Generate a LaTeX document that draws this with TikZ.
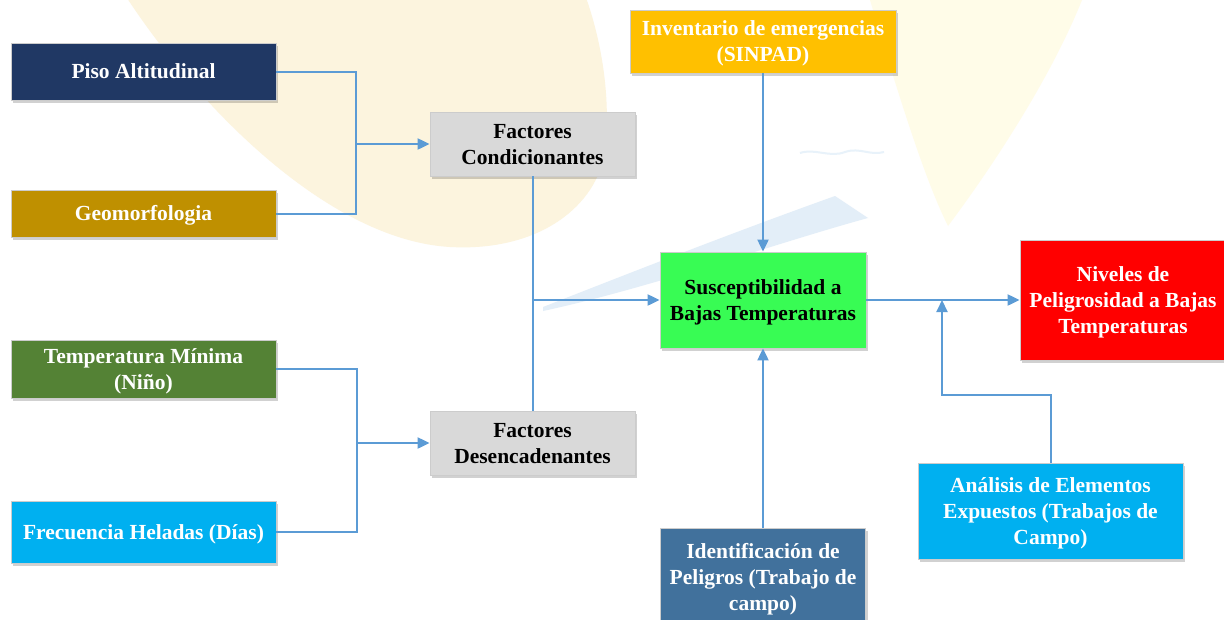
\documentclass[tikz,border=0pt]{standalone}
\usepackage{fontspec}
\setmainfont{Liberation Serif}
\usetikzlibrary{arrows.meta,shadows}
\definecolor{navy}{HTML}{203864}
\definecolor{gold}{HTML}{BF9000}
\definecolor{olive}{HTML}{548235}
\definecolor{sky}{HTML}{00B0F0}
\definecolor{lgray}{HTML}{D9D9D9}
\definecolor{amber}{HTML}{FFC000}
\definecolor{lgreen}{HTML}{38FC54}
\definecolor{bred}{HTML}{FF0000}
\definecolor{steel}{HTML}{41719C}
\definecolor{lineblue}{HTML}{5B9BD5}
\definecolor{wmyellow}{HTML}{FCF4DE}
\definecolor{wmyellowb}{HTML}{FFFCE8}
\definecolor{wmblue}{HTML}{E3EEF8}
\definecolor{wmbluel}{HTML}{E8F2FA}
\begin{document}
\begin{tikzpicture}[x=1pt,y=-1pt,
  box/.style={draw=black!20, line width=0.8pt, inner sep=0pt, align=center,
    font=\bfseries\fontsize{21.5}{26}\selectfont, text=white,
    text height=19.1pt, text depth=4.7pt,
    drop shadow={shadow xshift=2pt, shadow yshift=-2.5pt, opacity=.18, fill=black}},
  two/.style={text height=45.1pt},
  three/.style={text height=71.1pt},
  conn/.style={draw=lineblue, line width=2pt},
  arr/.style={conn, -{Triangle[length=12pt,width=11pt]}}]
\clip (0,0) rectangle (1224,619);
\fill[white] (0,0) rectangle (1224,619);
% faint watermark
\fill[wmyellow] (125,-5) .. controls (200,110) and (330,240) .. (450,247)
  .. controls (540,252) and (598,205) .. (605,150)
  .. controls (612,90) and (598,30) .. (585,-5) -- cycle;
\fill[wmyellowb] (870,0) .. controls (900,100) and (925,180) .. (948,226)
  .. controls (990,170) and (1050,80) .. (1082,0) -- cycle;
\draw[wmbluel, line width=2pt] (800,153) .. controls (815,148) and (830,158) .. (845,152) .. controls (860,147) and (870,156) .. (884,152);
\fill[wmblue] (543,307) .. controls (650,265) and (740,230) .. (835,196)
  -- (868,218)
  .. controls (780,242) and (650,288) .. (543,311) -- cycle;
% boxes
\node[box, fill=navy, minimum width=265pt, minimum height=57pt] (piso) at (143.5,71.5) {Piso Altitudinal};
\node[box, fill=gold, minimum width=265pt, minimum height=47pt] (geo) at (143.5,213.5) {Geomorfologia};
\node[box, two, fill=olive, minimum width=265pt, minimum height=58pt] (temp) at (143.5,369) {Temperatura Mínima\\(Niño)};
\node[box, fill=sky, minimum width=265pt, minimum height=62pt] (frec) at (143.5,532) {Frecuencia Heladas (Días)};
\node[box, two, fill=lgray, text=black, minimum width=205pt, minimum height=64pt] (fc) at (532.5,144) {Factores\\Condicionantes};
\node[box, two, fill=lgray, text=black, minimum width=205pt, minimum height=64pt] (fd) at (532.5,443) {Factores\\Desencadenantes};
\node[box, two, fill=amber, minimum width=266pt, minimum height=63pt] (inv) at (763,41.5) {Inventario de emergencias\\(SINPAD)};
\node[box, two, fill=lgreen, text=black, minimum width=206pt, minimum height=96pt] (sus) at (763,300) {Susceptibilidad a\\Bajas Temperaturas};
\node[box, three, fill=bred, minimum width=206pt, minimum height=120pt] (niv) at (1123,300) {Niveles de\\Peligrosidad a Bajas\\Temperaturas};
\node[box, three, fill=steel, minimum width=205pt, minimum height=98pt] (ide) at (763,577) {Identificación de\\Peligros (Trabajo de\\campo)};
\node[box, three, fill=sky, minimum width=265pt, minimum height=96pt] (ana) at (1050.5,511) {Análisis de Elementos\\Expuestos (Trabajos de\\Campo)};
% junctions
\coordinate (jc) at (356,144);
\coordinate (jd) at (357,443);
\coordinate (js) at (532.5,300);
\coordinate (jn) at (942,300);
% connectors
\draw[conn] (piso.east) -| (jc);
\draw[conn] (geo.east) -| (jc);
\draw[arr] (jc) -- (fc.west);
\draw[conn] (temp.east) -| (jd);
\draw[conn] (frec.east) -| (jd);
\draw[arr] (jd) -- (fd.west);
\draw[conn] (fc.south) -- (fd.north);
\draw[arr] (js) -- (sus.west);
\draw[arr] (inv.south) -- (sus.north);
\draw[arr] (ide.north) -- (sus.south);
\draw[arr] (sus.east) -- (niv.west);
\draw[arr] (ana.north) -- ++(0,-68) -| (jn);
\end{tikzpicture}
\end{document}
